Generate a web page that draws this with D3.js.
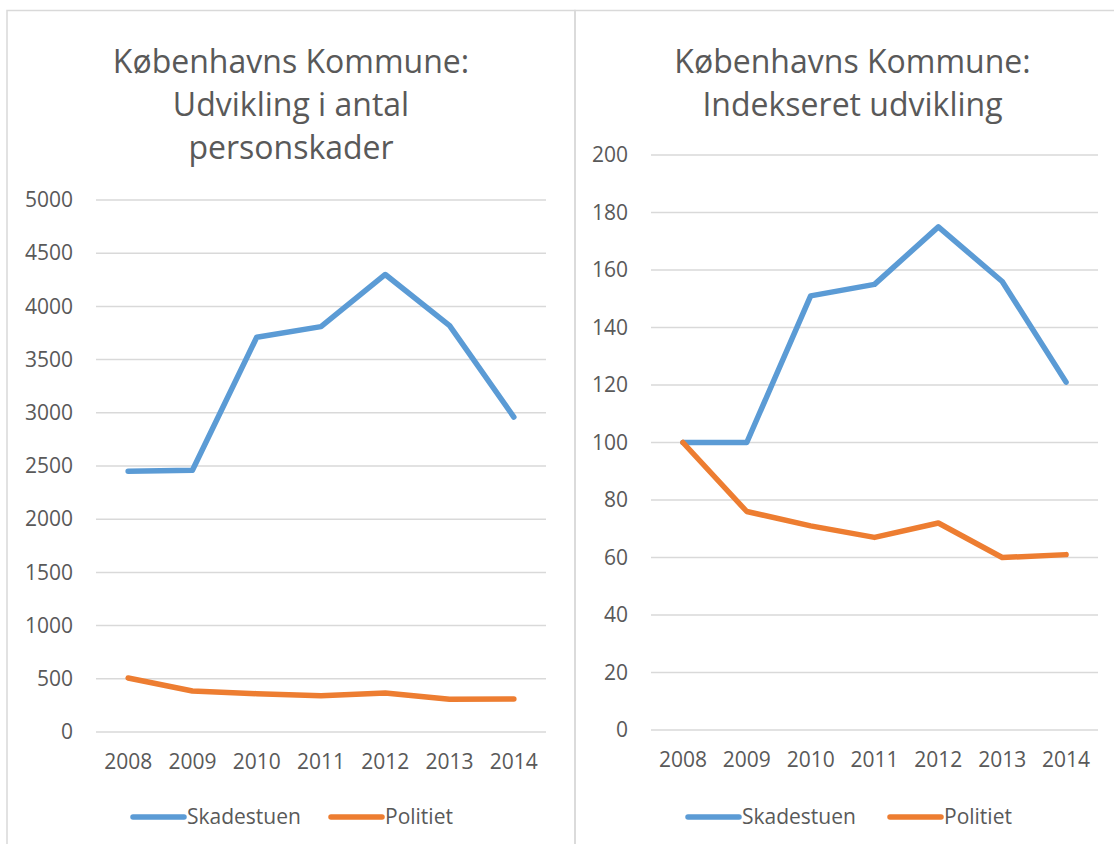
<!DOCTYPE html>
<html>
<head>
<meta charset="utf-8">
<script src="https://cdn.jsdelivr.net/npm/d3@7"></script>
<style>
  body { margin: 0; background: #fff; }
  svg text { font-family: "Open Sans", sans-serif; fill: #595959; }
</style>
</head>
<body>
<script>
// data
const years = ["2008", "2009", "2010", "2011", "2012", "2013", "2014"]
const skadestuen = [2450, 2460, 3710, 3810, 4300, 3820, 2960]
const politiet = [508, 386, 360, 340, 366, 308, 310]
const skadestuenIdx = [100, 100, 151, 155, 175, 156, 121]
const politietIdx = [100, 76, 71, 67, 72, 60, 61]
const seriesNames = ["Skadestuen", "Politiet"]
const colors = ["#5B9BD5", "#ED7D31"]

const width = 1114
const height = 844

const svg = d3.select("body").append("svg")
  .attr("width", width)
  .attr("height", height)

svg.append("rect").attr("width", width).attr("height", height).attr("fill", "#fff")

// one chart panel
function drawPanel(opt) {
  const g = svg.append("g")

  // outer frame
  g.append("rect")
    .attr("x", opt.box[0]).attr("y", 10.5)
    .attr("width", opt.box[1] - opt.box[0]).attr("height", 900)
    .attr("fill", "none").attr("stroke", "#d9d9d9").attr("stroke-width", 1.5)

  const cx = (opt.box[0] + opt.box[1]) / 2

  // title
  g.append("text")
    .attr("text-anchor", "middle")
    .attr("font-size", 32)
    .selectAll("tspan")
    .data(opt.title)
    .enter().append("tspan")
    .attr("x", cx)
    .attr("y", (d, i) => opt.titleY + i * 43)
    .text(d => d)

  const x = d3.scaleBand().domain(years).range(opt.xr)
  const y = d3.scaleLinear().domain([0, opt.max]).range(opt.yr)

  // gridlines
  g.append("g").selectAll("line")
    .data(y.ticks(opt.max / opt.step))
    .enter().append("line")
    .attr("x1", opt.xr[0]).attr("x2", opt.xr[1])
    .attr("y1", d => y(d)).attr("y2", d => y(d))
    .attr("stroke", "#d9d9d9").attr("stroke-width", 1.5)

  // y axis labels
  const yAxis = g.append("g")
    .attr("transform", `translate(${opt.xr[0] - 23},0)`)
    .call(d3.axisLeft(y).ticks(opt.max / opt.step).tickSize(0).tickPadding(0).tickFormat(d3.format("d")))
  yAxis.select(".domain").remove()
  yAxis.selectAll("text").attr("font-size", 21).attr("fill", "#595959").attr("font-family", "Open Sans")

  // x axis labels
  const xAxis = g.append("g")
    .attr("transform", `translate(0,${opt.yr[0]})`)
    .call(d3.axisBottom(x).tickSize(0).tickPadding(22))
  xAxis.select(".domain").remove()
  xAxis.selectAll("text").attr("font-size", 21).attr("fill", "#595959").attr("font-family", "Open Sans")

  // lines
  const line = d3.line()
    .x((d, i) => x(years[i]) + x.bandwidth() / 2)
    .y(d => y(d))
  opt.series.forEach((s, k) => {
    g.append("path")
      .attr("d", line(s))
      .attr("fill", "none")
      .attr("stroke", colors[k])
      .attr("stroke-width", 5.5)
      .attr("stroke-linejoin", "round")
      .attr("stroke-linecap", "round")
  })

  // legend
  const leg = g.append("g").attr("transform", `translate(${opt.legX},817)`)
  const offs = [0, opt.legGap]
  seriesNames.forEach((n, k) => {
    leg.append("line")
      .attr("x1", offs[k] + 2).attr("x2", offs[k] + 53)
      .attr("y1", 0).attr("y2", 0)
      .attr("stroke", colors[k]).attr("stroke-width", 5.5)
      .attr("stroke-linecap", "round")
    leg.append("text")
      .attr("x", offs[k] + 56).attr("y", 7)
      .attr("font-size", 21)
      .text(n)
  })
}

drawPanel({
  box: [7, 575],
  title: ["Københavns Kommune:", "Udvikling i antal", "personskader"],
  titleY: 73,
  xr: [96, 546],
  yr: [732, 200],
  max: 5000, step: 500,
  series: [skadestuen, politiet],
  legX: 131, legGap: 198
})

drawPanel({
  box: [575, 1130],
  title: ["Københavns Kommune:", "Indekseret udvikling"],
  titleY: 73,
  xr: [651, 1098],
  yr: [730, 155],
  max: 200, step: 20,
  series: [skadestuenIdx, politietIdx],
  legX: 686, legGap: 202
})
</script>
</body>
</html>
